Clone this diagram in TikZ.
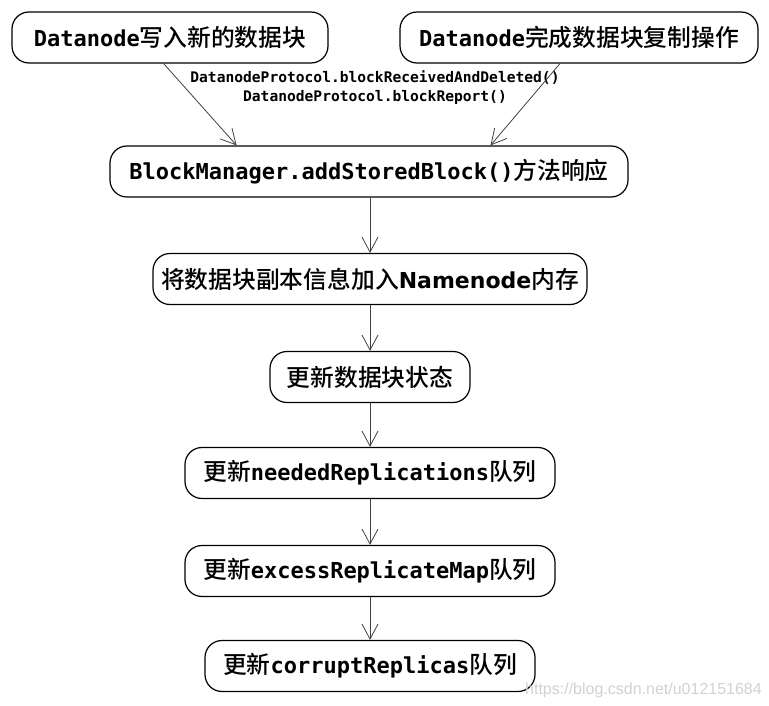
\documentclass[tikz,border=0pt]{standalone}
\usepackage{fontspec}
\newfontfamily\monof{DejaVu Sans Mono}
\newfontfamily\propf{DejaVu Sans}
\newfontfamily\cjk{Noto Sans CJK SC}[Scale=1.08, BoldFont={* Medium}]
\newfontfamily\wmf{Liberation Sans}
\usepackage{tikz}
\usetikzlibrary{calc, arrows.meta}
\newcommand\zhtext[1]{{\cjk #1}}

\tikzset{
    stepbox/.style={draw, line width=1.2pt, rounded corners=17pt,
        minimum height=51pt, inner xsep=0pt,
        font=\monof\bfseries\fontsize{22}{26}\selectfont},
    flow/.style={draw=black!75, line width=0.8pt,
        -{Straight Barb[length=15pt, width=16pt, line width=0.8pt]}},
}

\begin{document}
\begin{tikzpicture}[x=1pt, y=-1pt]
    % --- 1. 畫布大小 ---
    \useasboundingbox (0,0) rectangle (769,706);
    \def\cx{370}

    % --- 2. 兩個 Datanode 事件 ---
    \node[stepbox, minimum width=316pt] (write) at (170,37.5)
        {Datanode\zhtext{写入新的数据块}};
    \node[stepbox, minimum width=358pt] (copy) at (579,37.5)
        {Datanode\zhtext{完成数据块复制操作}};

    % --- 3. 處理步驟 (由上往下) ---
    \node[stepbox, minimum width=518pt] (add) at (369,171.5)
        {BlockManager.addStoredBlock()\zhtext{方法响应}};
    \node[stepbox, minimum width=434pt] (mem) at (\cx,279)
        {\zhtext{将数据块副本信息加入}{\propf Namenode}\zhtext{内存}};
    \node[stepbox, minimum width=200pt] (state) at (\cx,377)
        {\zhtext{更新数据块状态}};
    \node[stepbox, minimum width=370pt] (needed) at (\cx,473)
        {\zhtext{更新}neededReplications\zhtext{队列}};
    \node[stepbox, minimum width=370pt] (excess) at (\cx,571)
        {\zhtext{更新}excessReplicateMap\zhtext{队列}};
    \node[stepbox, minimum width=330pt] (corrupt) at (\cx,666)
        {\zhtext{更新}corruptReplicas\zhtext{队列}};

    % --- 4. RPC 說明文字 ---
    \node[align=center, inner sep=0pt,
          font=\monof\bfseries\fontsize{14.6}{19}\selectfont] (rpc) at (375,88)
        {DatanodeProtocol.blockReceivedAndDeleted()\\DatanodeProtocol.blockReport()};

    % --- 5. 連線 ---
    \draw[flow] ($(write.south west)!0.48!(write.south east)$)
        -- ($(add.north west)!0.245!(add.north east)$);
    \draw[flow] ($(copy.south west)!0.447!(copy.south east)$)
        -- ($(add.north west)!0.734!(add.north east)$);
    \draw[flow] (add.south -| \cx,0) -- (mem.north);
    \draw[flow] (mem) -- (state);
    \draw[flow] (state) -- (needed);
    \draw[flow] (needed) -- (excess);
    \draw[flow] (excess) -- (corrupt);

    % --- 6. 浮水印 ---
    \node[anchor=east, text=black!18, inner sep=0pt,
          font=\wmf\fontsize{16}{18}\selectfont] (mark) at (762,690)
        {https://blog.csdn.net/u012151684};
\end{tikzpicture}
\end{document}
